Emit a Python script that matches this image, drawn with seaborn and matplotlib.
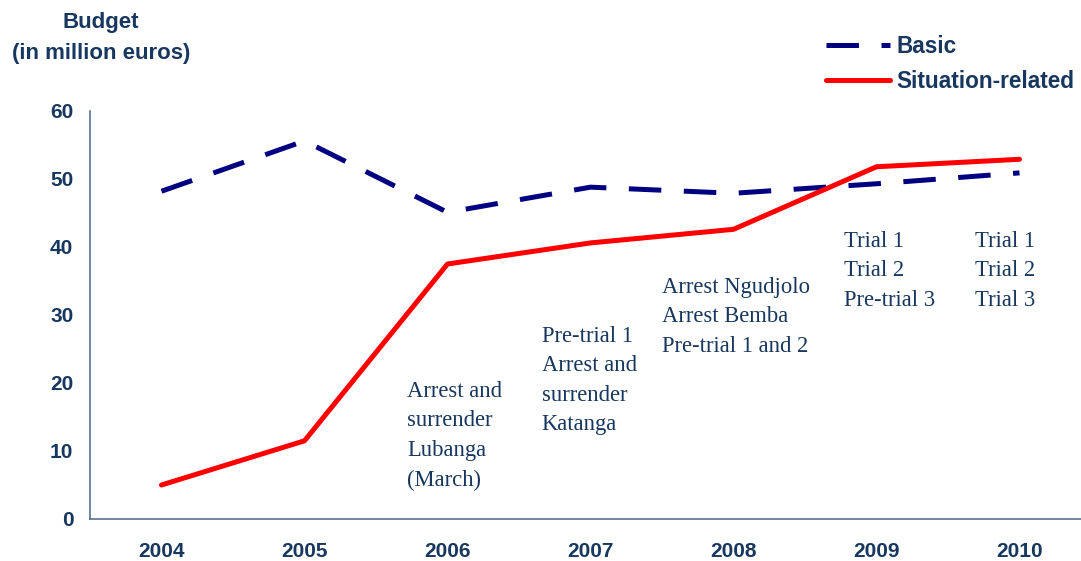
import numpy as np
import pandas as pd
import matplotlib
matplotlib.use("Agg")
import matplotlib.pyplot as plt
import seaborn as sns

years = ["2004", "2005", "2006", "2007", "2008", "2009", "2010"]
basic = [48.2, 55.6, 45.1, 48.8, 47.9, 49.3, 50.9]
situation = [5.0, 11.5, 37.5, 40.6, 42.6, 51.8, 52.9]

notes = [
    "Arrest and\nsurrender\nLubanga\n(March)",
    "Pre-trial 1\nArrest and\nsurrender\nKatanga",
    "Arrest Ngudjolo\nArrest Bemba\nPre-trial 1 and 2",
    "Trial 1\nTrial 2\nPre-trial 3",
    "Trial 1\nTrial 2\nTrial 3",
]
# where each note sits (x in category units, y top in data units)
note_pos = [(1.72, 20.3), (2.66, 28.4), (3.50, 35.6), (4.77, 42.4), (5.69, 42.4)]

TXT = "#17375E"
SPINE = "#5A7090"

sns.set_style("white")
plt.rcParams["font.family"] = ["Liberation Sans", "DejaVu Sans"]

df = pd.DataFrame({"x": np.arange(len(years)), "basic": basic, "situation": situation})

fig = plt.figure(figsize=(10.81, 5.61), dpi=100)
ax = fig.add_axes([90 / 1081, 1 - 519 / 561, 1001 / 1081, 408 / 561])

sns.lineplot(data=df, x="x", y="basic", ax=ax, color="#000080", linewidth=3.6,
             label="Basic")
ax.lines[-1].set_dashes([6.5, 4.5])
sns.lineplot(data=df, x="x", y="situation", ax=ax, color="#FF0000", linewidth=3.6,
             label="Situation-related")

ax.set_xlim(-0.5, 6.5)
ax.set_ylim(0, 60)
ax.set_yticks([0, 10, 20, 30, 40, 50, 60])
ax.set_xticks(np.arange(len(years)))
ax.set_xticklabels(years)
ax.set_xticks(np.arange(-0.5, 7, 1), minor=True)
ax.tick_params(axis="x", which="major", length=0, pad=16.5, labelsize=15, labelcolor=TXT)
ax.tick_params(axis="x", which="minor", length=6, width=1.2, color=SPINE, direction="out")
ax.tick_params(axis="y", length=6, width=1.2, color=SPINE, direction="out", pad=6,
               labelsize=15, labelcolor=TXT)
for lab in ax.get_xticklabels() + ax.get_yticklabels():
    lab.set_fontweight("bold")
ax.set_xlabel("")
ax.set_ylabel("")
for s in ["top", "right"]:
    ax.spines[s].set_visible(False)
for s in ["left", "bottom"]:
    ax.spines[s].set_color(SPINE)
    ax.spines[s].set_linewidth(1.2)

for (nx, ny), t in zip(note_pos, notes):
    ax.text(nx, ny, t, ha="left", va="top", fontsize=16.3, color=TXT,
            family=["Liberation Serif"], linespacing=1.53)

fig.text(101 / 1081, 1 - 38 / 561, "Budget\n(in million euros)", ha="center", va="center",
         fontsize=16, fontweight="bold", color=TXT, linespacing=1.65)

leg = ax.legend(loc="upper right", bbox_to_anchor=(1095 / 1081, 1 - 15 / 561),
                bbox_transform=fig.transFigure, frameon=False, fontsize=16.3,
                handlelength=2.8, handletextpad=0.3, labelspacing=0.5)
for t in leg.get_texts():
    t.set_fontweight("bold")
    t.set_color(TXT)

fig.savefig("out.png", dpi=100)
